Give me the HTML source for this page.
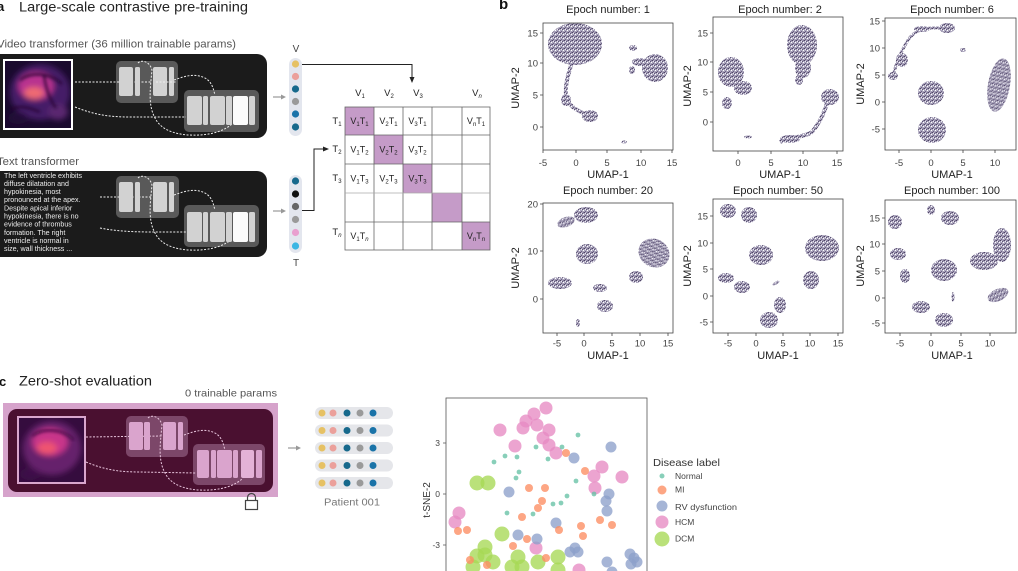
<!DOCTYPE html>
<html><head><meta charset="utf-8">
<style>
html,body{margin:0;padding:0;background:#fff;}
svg{display:block;font-family:"Liberation Sans",sans-serif;}
</style></head>
<body>
<svg width="1018" height="571" viewBox="0 0 1018 571" xmlns="http://www.w3.org/2000/svg">
<defs>
  <pattern id="sp" width="4" height="4" patternUnits="userSpaceOnUse">
    <rect width="4" height="4" fill="#aaa4bc"/>
    <rect x="0" y="0" width="1" height="1" fill="#4e4464"/>
    <rect x="2" y="1" width="1" height="1" fill="#5d5475"/>
    <rect x="1" y="3" width="1" height="1" fill="#6a6082"/>
    <rect x="3" y="2" width="1" height="1" fill="#ffffff"/>
    <rect x="1" y="1" width="1" height="1" fill="#ece9f1"/>
    <rect x="3" y="0" width="1" height="1" fill="#7c7393"/>
  </pattern>
  <filter id="bl" x="-20%" y="-20%" width="140%" height="140%"><feGaussianBlur stdDeviation="3"/></filter>
  <filter id="bl2" x="-20%" y="-20%" width="140%" height="140%"><feGaussianBlur stdDeviation="1.5"/></filter>
  <clipPath id="imA"><rect x="5" y="61" width="66" height="67"/></clipPath>
  <clipPath id="imC"><rect x="19" y="418" width="65" height="64"/></clipPath>
</defs>

<!-- ================= PANEL A ================= -->
<text x="-3" y="11" font-size="13" font-weight="bold" fill="#111">a</text>
<text x="19" y="11.5" font-size="13.5" fill="#222" textLength="229" lengthAdjust="spacingAndGlyphs">Large-scale contrastive pre-training</text>
<text x="-3" y="47.5" font-size="11" fill="#555" textLength="239" lengthAdjust="spacingAndGlyphs">Video transformer (36 million trainable params)</text>

<!-- video box -->
<rect x="-10" y="54" width="277" height="84" rx="10" fill="#1b1b1b"/>
<rect x="3" y="59" width="70" height="71" fill="#fff"/>
<g clip-path="url(#imA)">
  <rect x="5" y="61" width="66" height="67" fill="#1a0a2e"/>
  <g filter="url(#bl)">
    <ellipse cx="40" cy="92" rx="30" ry="28" fill="#4c2072" opacity="0.85"/>
    <ellipse cx="36" cy="86" rx="18" ry="14" fill="#b8338f"/>
    <ellipse cx="34" cy="93" rx="10" ry="6" fill="#ef6a72"/>
    <ellipse cx="58" cy="112" rx="10" ry="8" fill="#5a2670"/>
    <ellipse cx="18" cy="118" rx="10" ry="6" fill="#200c38"/>
  </g>
  <g filter="url(#bl2)" fill="none" stroke="#22092f" stroke-width="2">
    <path d="M20,80 C30,72 50,72 62,84"/>
    <path d="M44,75 C46,90 50,100 56,108"/>
    <path d="M10,110 C20,104 30,108 40,112"/>
  </g>
</g>

<!-- video blocks -->
<rect x="116" y="61" width="62" height="42" rx="5" fill="#595959"/>
<rect x="184" y="90" width="75" height="42" rx="5" fill="#595959"/>
<g fill="none" stroke="#eee" stroke-width="1" stroke-dasharray="2 1.5">
  <path d="M75,82 L152,82"/>
  <path d="M75,107 C95,115 110,117 130,117 L186,117"/>
  <path d="M174,80 C185,76 195,73 205,78 C212,82 213,88 215,95"/>
  <path d="M138,63 C142,59 150,62 152,70 C150,90 148,105 155,118 C162,132 180,136 200,135 C215,134 225,130 232,124"/>
</g>
<g fill="#d2d2d2">
  <rect x="119" y="67" width="14" height="29" rx="2"/>
  <rect x="135" y="67" width="5" height="29" rx="1.5"/>
  <rect x="153" y="67" width="14" height="29" rx="2"/>
  <rect x="169" y="67" width="5" height="29" rx="1.5"/>
  <rect x="187" y="96" width="15" height="29" rx="2"/>
  <rect x="203" y="96" width="5" height="29" rx="1.5"/>
  <rect x="210" y="96" width="15" height="29" rx="2"/>
  <rect x="226" y="96" width="6" height="29" rx="1.5"/>
  <rect x="233" y="96" width="15" height="29" rx="2" fill="#fbfbfb"/>
  <rect x="249" y="96" width="6" height="29" rx="1.5"/>
</g>
<path d="M156,82 L176,82" stroke="#eee" stroke-dasharray="2 1.5"/>

<!-- arrow -->
<path d="M273,97 L283,97" stroke="#999" stroke-width="1.2"/>
<path d="M286,97 L281,94.5 L281,99.5 Z" fill="#999"/>

<!-- V column -->
<text x="296" y="52" font-size="10" fill="#444" text-anchor="middle">V</text>
<rect x="289" y="58" width="13" height="78" rx="6.5" fill="#e3e6ee"/>
<circle cx="295.5" cy="64" r="3.6" fill="#e6c164"/>
<circle cx="295.5" cy="76.5" r="3.6" fill="#eba09b"/>
<circle cx="295.5" cy="89" r="3.6" fill="#17698c"/>
<circle cx="295.5" cy="101.5" r="3.6" fill="#9a9a9a"/>
<circle cx="295.5" cy="114" r="3.6" fill="#1a73a8"/>
<circle cx="295.5" cy="127" r="3.6" fill="#17698c"/>
<path d="M302,64.5 L412,64.5 L412,78" fill="none" stroke="#222" stroke-width="1"/>
<path d="M412,83 L409.5,77 L414.5,77 Z" fill="#222"/>

<!-- text transformer -->
<text x="-3" y="165" font-size="11" fill="#555" textLength="82" lengthAdjust="spacingAndGlyphs">Text transformer</text>
<rect x="-10" y="171" width="277" height="86" rx="10" fill="#1b1b1b"/>
<g font-size="7.1" fill="#ededed">
  <text x="4" y="177.8">The left ventricle exhibits</text>
  <text x="4" y="185.9">diffuse dilatation and</text>
  <text x="4" y="194.1">hypokinesia, most</text>
  <text x="4" y="202.2">pronounced at the apex.</text>
  <text x="4" y="210.4">Despite apical inferior</text>
  <text x="4" y="218.5">hypokinesia, there is no</text>
  <text x="4" y="226.7">evidence of thrombus</text>
  <text x="4" y="234.8">formation. The right</text>
  <text x="4" y="243">ventricle is normal in</text>
  <text x="4" y="251.1">size, wall thickness ...</text>
</g>
<rect x="116" y="176" width="63" height="42" rx="5" fill="#595959"/>
<rect x="184" y="205" width="75" height="42" rx="5" fill="#595959"/>
<g fill="none" stroke="#eee" stroke-width="1" stroke-dasharray="2 1.5">
  <path d="M100,197 L152,197"/>
  <path d="M100,228 C120,232 140,232 160,232 L186,232"/>
  <path d="M174,195 C185,191 195,188 205,193 C212,197 213,203 215,210"/>
  <path d="M138,178 C142,174 150,177 152,185 C150,205 148,220 155,233 C162,247 180,251 200,250 C215,249 225,245 232,239"/>
</g>
<g fill="#d2d2d2">
  <rect x="119" y="182" width="14" height="30" rx="2"/>
  <rect x="135" y="182" width="5" height="30" rx="1.5"/>
  <rect x="153" y="182" width="14" height="30" rx="2"/>
  <rect x="169" y="182" width="5" height="30" rx="1.5"/>
  <rect x="187" y="212" width="15" height="30" rx="2"/>
  <rect x="203" y="212" width="5" height="30" rx="1.5"/>
  <rect x="210" y="212" width="15" height="30" rx="2"/>
  <rect x="226" y="212" width="6" height="30" rx="1.5"/>
  <rect x="233" y="212" width="15" height="30" rx="2" fill="#fbfbfb"/>
  <rect x="249" y="212" width="6" height="30" rx="1.5"/>
</g>
<path d="M273,211 L283,211" stroke="#999" stroke-width="1.2"/>
<path d="M286,211 L281,208.5 L281,213.5 Z" fill="#999"/>

<!-- T column -->
<rect x="289" y="175" width="13" height="78" rx="6.5" fill="#e3e6ee"/>
<circle cx="295.5" cy="181" r="3.6" fill="#17698c"/>
<circle cx="295.5" cy="194" r="3.6" fill="#111"/>
<circle cx="295.5" cy="206.5" r="3.6" fill="#666"/>
<circle cx="295.5" cy="219.5" r="3.6" fill="#9a9a9a"/>
<circle cx="295.5" cy="232.5" r="3.6" fill="#e99fcf"/>
<circle cx="295.5" cy="246" r="3.6" fill="#3cb6e3"/>
<text x="296" y="266" font-size="10" fill="#444" text-anchor="middle">T</text>
<path d="M302,210.5 L314,210.5 L314,149 L324,149" fill="none" stroke="#222" stroke-width="1"/>
<path d="M329,149 L323,146.5 L323,151.5 Z" fill="#222"/>

<!-- matrix -->
<g fill="#c59bc8">
  <rect x="345" y="107" width="29" height="28"/>
  <rect x="374" y="135" width="29" height="29"/>
  <rect x="403" y="164" width="29" height="29"/>
  <rect x="432" y="193" width="30" height="29"/>
  <rect x="462" y="222" width="28" height="28"/>
</g>
<g stroke="#666" stroke-width="0.8" fill="none">
  <rect x="345" y="107" width="145" height="143"/>
  <path d="M374,107V250M403,107V250M432,107V250M462,107V250"/>
  <path d="M345,135H490M345,164H490M345,222H490"/>
  <path d="M345,193H490" stroke="#aaa"/>
</g>
<g font-size="9.5" fill="#222" text-anchor="middle">
  <text x="360" y="96">V<tspan dy="2" font-size="6">1</tspan></text>
  <text x="389" y="96">V<tspan dy="2" font-size="6">2</tspan></text>
  <text x="418" y="96">V<tspan dy="2" font-size="6">3</tspan></text>
  <text x="477" y="96">V<tspan dy="2" font-size="6" font-style="italic">n</tspan></text>
  <text x="337" y="124">T<tspan dy="2" font-size="6">1</tspan></text>
  <text x="337" y="152">T<tspan dy="2" font-size="6">2</tspan></text>
  <text x="337" y="181">T<tspan dy="2" font-size="6">3</tspan></text>
  <text x="337" y="235">T<tspan dy="2" font-size="6" font-style="italic">n</tspan></text>
</g>
<g font-size="9" fill="#222" text-anchor="middle">
  <text x="359.5" y="124">V<tspan dy="2" font-size="6">1</tspan><tspan dy="-2">T</tspan><tspan dy="2" font-size="6">1</tspan></text>
  <text x="388.5" y="124">V<tspan dy="2" font-size="6">2</tspan><tspan dy="-2">T</tspan><tspan dy="2" font-size="6">1</tspan></text>
  <text x="417.5" y="124">V<tspan dy="2" font-size="6">3</tspan><tspan dy="-2">T</tspan><tspan dy="2" font-size="6">1</tspan></text>
  <text x="476" y="124">V<tspan dy="2" font-size="6" font-style="italic">n</tspan><tspan dy="-2">T</tspan><tspan dy="2" font-size="6">1</tspan></text>
  <text x="359.5" y="152.5">V<tspan dy="2" font-size="6">1</tspan><tspan dy="-2">T</tspan><tspan dy="2" font-size="6">2</tspan></text>
  <text x="388.5" y="152.5">V<tspan dy="2" font-size="6">2</tspan><tspan dy="-2">T</tspan><tspan dy="2" font-size="6">2</tspan></text>
  <text x="417.5" y="152.5">V<tspan dy="2" font-size="6">3</tspan><tspan dy="-2">T</tspan><tspan dy="2" font-size="6">2</tspan></text>
  <text x="359.5" y="181.5">V<tspan dy="2" font-size="6">1</tspan><tspan dy="-2">T</tspan><tspan dy="2" font-size="6">3</tspan></text>
  <text x="388.5" y="181.5">V<tspan dy="2" font-size="6">2</tspan><tspan dy="-2">T</tspan><tspan dy="2" font-size="6">3</tspan></text>
  <text x="417.5" y="181.5">V<tspan dy="2" font-size="6">3</tspan><tspan dy="-2">T</tspan><tspan dy="2" font-size="6">3</tspan></text>
  <text x="359.5" y="239">V<tspan dy="2" font-size="6">1</tspan><tspan dy="-2">T</tspan><tspan dy="2" font-size="6" font-style="italic">n</tspan></text>
  <text x="476" y="239">V<tspan dy="2" font-size="6" font-style="italic">n</tspan><tspan dy="-2">T</tspan><tspan dy="2" font-size="6" font-style="italic">n</tspan></text>
</g>

<!-- ================= PANEL B ================= -->
<text x="499" y="9" font-size="15" font-weight="bold" fill="#111">b</text>

<g font-size="9.5" fill="#444">
<!-- Plot 1 -->
<text x="608" y="13" font-size="11" fill="#222" text-anchor="middle">Epoch number: 1</text>
<g fill="url(#sp)">
  <ellipse cx="575" cy="44" rx="27" ry="21"/>
  <ellipse cx="566" cy="100" rx="5" ry="6"/>
  <ellipse cx="590" cy="116" rx="8" ry="6"/>
  <ellipse cx="655" cy="68" rx="13" ry="14"/>
  <ellipse cx="640" cy="62" rx="8" ry="4"/>
  <ellipse cx="633" cy="48" rx="4" ry="3"/>
  <ellipse cx="632" cy="70" rx="3" ry="4"/>
  <ellipse cx="624" cy="142" rx="3" ry="1.5"/>
</g>
<path d="M572,62 C568,75 565,85 566,95 C567,105 575,110 590,116" fill="none" stroke="url(#sp)" stroke-width="4"/>
<rect x="543" y="23" width="130" height="127" fill="none" stroke="#444" stroke-width="0.8"/>
<path d="M540,33H543M540,63H543M540,95H543M540,127H543M543,150V153M576,150V153M607,150V153M641,150V153M672,150V153" stroke="#444" stroke-width="0.8"/>
<g text-anchor="end"><text x="538" y="36.5">15</text><text x="538" y="66.5">10</text><text x="538" y="98.5">5</text><text x="538" y="130.5">0</text></g>
<g text-anchor="middle"><text x="543" y="166">-5</text><text x="576" y="166">0</text><text x="607" y="166">5</text><text x="641" y="166">10</text><text x="672" y="166">15</text></g>
<text x="608" y="178" font-size="11" text-anchor="middle" fill="#222">UMAP-1</text>
<text transform="translate(519,88) rotate(-90)" font-size="11" text-anchor="middle" fill="#222">UMAP-2</text>

<!-- Plot 2 -->
<text x="780" y="13" font-size="11" fill="#222" text-anchor="middle">Epoch number: 2</text>
<g fill="url(#sp)">
  <ellipse cx="731" cy="72" rx="13" ry="15"/>
  <ellipse cx="743" cy="88" rx="9" ry="7"/>
  <ellipse cx="727" cy="103" rx="5" ry="6"/>
  <ellipse cx="802" cy="45" rx="15" ry="20"/>
  <ellipse cx="803" cy="68" rx="8" ry="10"/>
  <ellipse cx="799" cy="80" rx="4" ry="5"/>
  <ellipse cx="830" cy="97" rx="9" ry="8"/>
  <ellipse cx="790" cy="139" rx="10" ry="4"/>
  <ellipse cx="748" cy="137" rx="4" ry="1.5"/>
</g>
<path d="M828,100 C824,115 818,125 812,132 C805,137 790,137 780,142" fill="none" stroke="url(#sp)" stroke-width="4"/>
<rect x="713" y="17" width="130" height="134" fill="none" stroke="#444" stroke-width="0.8"/>
<path d="M710,33H713M710,62H713M710,92H713M710,122H713M738,151V154M771,151V154M803,151V154M837,151V154" stroke="#444" stroke-width="0.8"/>
<g text-anchor="end"><text x="708" y="36.5">15</text><text x="708" y="65.5">10</text><text x="708" y="95.5">5</text><text x="708" y="125.5">0</text></g>
<g text-anchor="middle"><text x="738" y="166">0</text><text x="771" y="166">5</text><text x="803" y="166">10</text><text x="837" y="166">15</text></g>
<text x="780" y="178" font-size="11" text-anchor="middle" fill="#222">UMAP-1</text>
<text transform="translate(691,86) rotate(-90)" font-size="11" text-anchor="middle" fill="#222">UMAP-2</text>

<!-- Plot 3 -->
<text x="952" y="13" font-size="11" fill="#222" text-anchor="middle">Epoch number: 6</text>
<g fill="url(#sp)">
  <ellipse cx="947" cy="28" rx="8" ry="5"/>
  <ellipse cx="922" cy="29" rx="8" ry="3"/>
  <ellipse cx="902" cy="60" rx="6" ry="7"/>
  <ellipse cx="893" cy="76" rx="5" ry="4"/>
  <ellipse cx="963" cy="50" rx="3" ry="2"/>
  <ellipse cx="999" cy="85" rx="11" ry="27" transform="rotate(10 999 85)"/>
  <ellipse cx="931" cy="93" rx="13" ry="12"/>
  <ellipse cx="932" cy="130" rx="14" ry="13"/>
</g>
<path d="M940,28 C925,27 915,30 908,40 C902,50 897,60 893,76" fill="none" stroke="url(#sp)" stroke-width="3"/>
<rect x="885" y="18" width="131" height="132" fill="none" stroke="#444" stroke-width="0.8"/>
<path d="M882,21H885M882,48H885M882,75H885M882,102H885M882,129H885M899,150V153M931,150V153M963,150V153M995,150V153" stroke="#444" stroke-width="0.8"/>
<g text-anchor="end"><text x="880" y="24.5">15</text><text x="880" y="51.5">10</text><text x="880" y="78.5">5</text><text x="880" y="105.5">0</text><text x="880" y="132.5">-5</text></g>
<g text-anchor="middle"><text x="899" y="166">-5</text><text x="931" y="166">0</text><text x="963" y="166">5</text><text x="995" y="166">10</text></g>
<text x="952" y="178" font-size="11" text-anchor="middle" fill="#222">UMAP-1</text>
<text transform="translate(864,84) rotate(-90)" font-size="11" text-anchor="middle" fill="#222">UMAP-2</text>

<!-- Plot 4 -->
<text x="608" y="194" font-size="11" fill="#222" text-anchor="middle">Epoch number: 20</text>
<g fill="url(#sp)">
  <ellipse cx="586" cy="215" rx="12" ry="8"/>
  <ellipse cx="566" cy="222" rx="9" ry="5" transform="rotate(-20 566 222)"/>
  <ellipse cx="587" cy="254" rx="11" ry="10"/>
  <ellipse cx="654" cy="253" rx="16" ry="14" transform="rotate(30 654 253)"/>
  <ellipse cx="636" cy="277" rx="7" ry="6"/>
  <ellipse cx="560" cy="283" rx="12" ry="6"/>
  <ellipse cx="600" cy="288" rx="7" ry="4"/>
  <ellipse cx="605" cy="306" rx="8" ry="6"/>
  <ellipse cx="578" cy="323" rx="2" ry="4"/>
</g>
<rect x="543" y="203" width="130" height="130" fill="none" stroke="#444" stroke-width="0.8"/>
<path d="M540,204H543M540,251H543M540,299H543M557,333V336M584,333V336M612,333V336M640,333V336M668,333V336" stroke="#444" stroke-width="0.8"/>
<g text-anchor="end"><text x="538" y="207.5">20</text><text x="538" y="254.5">10</text><text x="538" y="302.5">0</text></g>
<g text-anchor="middle"><text x="557" y="346.5">-5</text><text x="584" y="346.5">0</text><text x="612" y="346.5">5</text><text x="640" y="346.5">10</text><text x="668" y="346.5">15</text></g>
<text x="608" y="359" font-size="11" text-anchor="middle" fill="#222">UMAP-1</text>
<text transform="translate(519,268) rotate(-90)" font-size="11" text-anchor="middle" fill="#222">UMAP-2</text>

<!-- Plot 5 -->
<text x="778" y="194" font-size="11" fill="#222" text-anchor="middle">Epoch number: 50</text>
<g fill="url(#sp)">
  <ellipse cx="728" cy="211" rx="8" ry="7"/>
  <ellipse cx="749" cy="215" rx="8" ry="8"/>
  <ellipse cx="761" cy="255" rx="12" ry="10"/>
  <ellipse cx="822" cy="248" rx="17" ry="13"/>
  <ellipse cx="811" cy="280" rx="8" ry="9"/>
  <ellipse cx="726" cy="278" rx="8" ry="5"/>
  <ellipse cx="742" cy="287" rx="8" ry="6"/>
  <ellipse cx="776" cy="283" rx="4" ry="1.5" transform="rotate(-30 776 283)"/>
  <ellipse cx="780" cy="305" rx="6" ry="8"/>
  <ellipse cx="769" cy="320" rx="9" ry="8"/>
</g>
<rect x="713" y="199" width="130" height="134" fill="none" stroke="#444" stroke-width="0.8"/>
<path d="M710,216H713M710,243H713M710,269H713M710,296H713M710,322H713M728,333V336M756,333V336M783,333V336M810,333V336M838,333V336" stroke="#444" stroke-width="0.8"/>
<g text-anchor="end"><text x="708" y="219.5">15</text><text x="708" y="246.5">10</text><text x="708" y="272.5">5</text><text x="708" y="299.5">0</text><text x="708" y="325.5">-5</text></g>
<g text-anchor="middle"><text x="728" y="346.5">-5</text><text x="756" y="346.5">0</text><text x="783" y="346.5">5</text><text x="810" y="346.5">10</text><text x="838" y="346.5">15</text></g>
<text x="778" y="359" font-size="11" text-anchor="middle" fill="#222">UMAP-1</text>
<text transform="translate(691,266) rotate(-90)" font-size="11" text-anchor="middle" fill="#222">UMAP-2</text>

<!-- Plot 6 -->
<text x="952" y="194" font-size="11" fill="#222" text-anchor="middle">Epoch number: 100</text>
<g fill="url(#sp)">
  <ellipse cx="895" cy="222" rx="7" ry="7"/>
  <ellipse cx="931" cy="210" rx="4" ry="5"/>
  <ellipse cx="950" cy="218" rx="9" ry="7"/>
  <ellipse cx="1002" cy="245" rx="9" ry="17"/>
  <ellipse cx="984" cy="261" rx="14" ry="9"/>
  <ellipse cx="898" cy="254" rx="8" ry="6"/>
  <ellipse cx="905" cy="276" rx="5" ry="7"/>
  <ellipse cx="944" cy="270" rx="13" ry="11"/>
  <ellipse cx="998" cy="295" rx="11" ry="6" transform="rotate(-25 998 295)"/>
  <ellipse cx="921" cy="307" rx="9" ry="6"/>
  <ellipse cx="944" cy="320" rx="9" ry="7"/>
  <ellipse cx="953" cy="297" rx="1.5" ry="5"/>
</g>
<rect x="885" y="200" width="131" height="133" fill="none" stroke="#444" stroke-width="0.8"/>
<path d="M882,218H885M882,244H885M882,271H885M882,298H885M882,323H885M900,333V336M931,333V336M961,333V336M990,333V336" stroke="#444" stroke-width="0.8"/>
<g text-anchor="end"><text x="880" y="221.5">15</text><text x="880" y="247.5">10</text><text x="880" y="274.5">5</text><text x="880" y="301.5">0</text><text x="880" y="326.5">-5</text></g>
<g text-anchor="middle"><text x="900" y="346.5">-5</text><text x="931" y="346.5">0</text><text x="961" y="346.5">5</text><text x="990" y="346.5">10</text></g>
<text x="952" y="359" font-size="11" text-anchor="middle" fill="#222">UMAP-1</text>
<text transform="translate(864,266) rotate(-90)" font-size="11" text-anchor="middle" fill="#222">UMAP-2</text>
</g>

<!-- ================= PANEL C ================= -->
<text x="-1" y="386" font-size="13" font-weight="bold" fill="#111">c</text>
<text x="19" y="385.5" font-size="13.5" fill="#222" textLength="133" lengthAdjust="spacingAndGlyphs">Zero-shot evaluation</text>
<text x="185" y="396.5" font-size="10.5" fill="#555" textLength="92" lengthAdjust="spacingAndGlyphs">0 trainable params</text>

<rect x="3" y="403" width="275" height="94" fill="#d6a3cb"/>
<rect x="8" y="409" width="265" height="83" rx="9" fill="#4a1030"/>
<rect x="17" y="416" width="69" height="68" fill="#d9a6cd"/>
<g clip-path="url(#imC)">
  <rect x="19" y="418" width="65" height="64" fill="#350c3e"/>
  <g filter="url(#bl)">
    <ellipse cx="52" cy="448" rx="29" ry="27" fill="#6e2474" opacity="0.85"/>
    <ellipse cx="50" cy="442" rx="18" ry="14" fill="#c8348a"/>
    <ellipse cx="47" cy="448" rx="10" ry="6" fill="#ef5470"/>
    <ellipse cx="30" cy="474" rx="10" ry="6" fill="#3e1148"/>
  </g>
  <g filter="url(#bl2)" fill="none" stroke="#3e0e40" stroke-width="2">
    <path d="M32,436 C42,428 62,428 74,440"/>
  </g>
</g>

<rect x="126" y="416" width="62" height="41" rx="5" fill="#7c4769"/>
<rect x="193" y="444" width="72" height="41" rx="5" fill="#7c4769"/>
<g fill="none" stroke="#e9c6de" stroke-width="1" stroke-dasharray="2 1.5">
  <path d="M86,437 L162,436"/>
  <path d="M86,462 C105,470 120,472 140,472 L196,473"/>
  <path d="M184,435 C195,431 205,428 215,433 C222,437 223,443 225,450"/>
  <path d="M148,418 C152,414 160,417 162,425 C160,445 158,460 165,473 C172,487 190,491 210,490 C225,489 235,485 242,479"/>
</g>
<g fill="#daa4cd">
  <rect x="129" y="422" width="14" height="28" rx="2"/>
  <rect x="144" y="422" width="6" height="28" rx="1.5"/>
  <rect x="163" y="422" width="13" height="28" rx="2"/>
  <rect x="178" y="422" width="5" height="28" rx="1.5"/>
  <rect x="197" y="450" width="12" height="28" rx="2"/>
  <rect x="211" y="450" width="5" height="28" rx="1.5"/>
  <rect x="217" y="450" width="15" height="28" rx="2"/>
  <rect x="233" y="450" width="5" height="28" rx="1.5"/>
  <rect x="241" y="450" width="13" height="28" rx="2" fill="#e4b2d7"/>
  <rect x="256" y="450" width="6" height="28" rx="1.5"/>
</g>

<!-- lock -->
<path d="M247.5,501 V497.5 A4,4 0 0 1 255.5,497.5 V501" fill="none" stroke="#444" stroke-width="1.2"/>
<rect x="245.5" y="500.5" width="12" height="9" fill="#fff" stroke="#444" stroke-width="1.2"/>

<!-- arrow -->
<path d="M288,448 L298,448" stroke="#999" stroke-width="1.2"/>
<path d="M301,448 L296,445.5 L296,450.5 Z" fill="#999"/>

<!-- token rows -->
<g>
  <rect x="315" y="407" width="78" height="12" rx="6" fill="#e5e6ea"/>
  <rect x="315" y="424.5" width="78" height="12" rx="6" fill="#e5e6ea"/>
  <rect x="315" y="442" width="78" height="12" rx="6" fill="#e5e6ea"/>
  <rect x="315" y="459.5" width="78" height="12" rx="6" fill="#e5e6ea"/>
  <rect x="315" y="477" width="78" height="12" rx="6" fill="#e5e6ea"/>
</g>
<g>
  <g fill="#e6c164"><circle cx="322" cy="413" r="3.5"/><circle cx="322" cy="430.5" r="3.5"/><circle cx="322" cy="448" r="3.5"/><circle cx="322" cy="465.5" r="3.5"/><circle cx="322" cy="483" r="3.5"/></g>
  <g fill="#eba09b"><circle cx="333" cy="413" r="3.5"/><circle cx="333" cy="430.5" r="3.5"/><circle cx="333" cy="448" r="3.5"/><circle cx="333" cy="465.5" r="3.5"/><circle cx="333" cy="483" r="3.5"/></g>
  <g fill="#17698c"><circle cx="347" cy="413" r="3.5"/><circle cx="347" cy="430.5" r="3.5"/><circle cx="347" cy="448" r="3.5"/><circle cx="347" cy="465.5" r="3.5"/><circle cx="347" cy="483" r="3.5"/></g>
  <g fill="#9a9a9a"><circle cx="360" cy="413" r="3.5"/><circle cx="360" cy="430.5" r="3.5"/><circle cx="360" cy="448" r="3.5"/><circle cx="360" cy="465.5" r="3.5"/><circle cx="360" cy="483" r="3.5"/></g>
  <g fill="#1a73a8"><circle cx="373" cy="413" r="3.5"/><circle cx="373" cy="430.5" r="3.5"/><circle cx="373" cy="448" r="3.5"/><circle cx="373" cy="465.5" r="3.5"/><circle cx="373" cy="483" r="3.5"/></g>
</g>
<text x="324" y="505.5" font-size="10" fill="#777" textLength="56" lengthAdjust="spacingAndGlyphs">Patient 001</text>

<!-- t-SNE scatter -->
<g fill-opacity="0.78">
  <g fill="#a6d854">
    <circle cx="477" cy="483" r="7.5"/><circle cx="488" cy="483" r="7.5"/><circle cx="502" cy="534" r="7.5"/>
    <circle cx="485" cy="547" r="7.5"/><circle cx="477" cy="556" r="7.5"/><circle cx="485" cy="555" r="7.5"/>
    <circle cx="493" cy="562" r="7.5"/><circle cx="518" cy="557" r="7.5"/><circle cx="512" cy="567" r="7.5"/>
    <circle cx="522" cy="567" r="7.5"/><circle cx="538" cy="562" r="7.5"/><circle cx="558" cy="557" r="7.5"/>
    <circle cx="558" cy="570" r="7.5"/><circle cx="473" cy="567" r="7.5"/>
  </g>
  <g fill="#e78ac3">
    <circle cx="546" cy="408" r="6.5"/><circle cx="534" cy="414" r="6.5"/><circle cx="526" cy="421" r="6.5"/>
    <circle cx="523" cy="428" r="6.5"/><circle cx="537" cy="425" r="6.5"/><circle cx="549" cy="430" r="6.5"/>
    <circle cx="543" cy="438" r="6.5"/><circle cx="549" cy="445" r="6.5"/><circle cx="556" cy="453" r="6.5"/>
    <circle cx="500" cy="430" r="6.5"/><circle cx="515" cy="446" r="6.5"/><circle cx="602" cy="467" r="6.5"/>
    <circle cx="594" cy="476" r="6.5"/><circle cx="622" cy="477" r="6.5"/><circle cx="595" cy="488" r="6.5"/>
    <circle cx="459" cy="513" r="6.5"/><circle cx="455" cy="522" r="6.5"/><circle cx="536" cy="548" r="6.5"/>
    <circle cx="579" cy="570" r="6.5"/>
  </g>
  <g fill="#8da0cb">
    <circle cx="611" cy="447" r="5.5"/><circle cx="574" cy="458" r="5.5"/><circle cx="509" cy="492" r="5.5"/>
    <circle cx="609" cy="494" r="5.5"/><circle cx="606" cy="501" r="5.5"/><circle cx="607" cy="511" r="5.5"/>
    <circle cx="556" cy="523" r="5.5"/><circle cx="518" cy="535" r="5.5"/><circle cx="537" cy="539" r="5.5"/>
    <circle cx="570" cy="552" r="5.5"/><circle cx="575" cy="548" r="5.5"/><circle cx="578" cy="552" r="5.5"/>
    <circle cx="607" cy="562" r="5.5"/><circle cx="630" cy="554" r="5.5"/><circle cx="634" cy="558" r="5.5"/>
    <circle cx="637" cy="562" r="5.5"/><circle cx="631" cy="564" r="5.5"/><circle cx="612" cy="572" r="5.5"/>
  </g>
  <g fill="#fc8d62">
    <circle cx="566" cy="453" r="4"/><circle cx="585" cy="471" r="4"/><circle cx="529" cy="488" r="4"/>
    <circle cx="545" cy="488" r="4"/><circle cx="542" cy="501" r="4"/><circle cx="538" cy="508" r="4"/>
    <circle cx="522" cy="517" r="4"/><circle cx="458" cy="531" r="4"/><circle cx="467" cy="530" r="4"/>
    <circle cx="559" cy="530" r="4"/><circle cx="581" cy="526" r="4"/><circle cx="583" cy="536" r="4"/>
    <circle cx="600" cy="520" r="4"/><circle cx="612" cy="525" r="4"/><circle cx="527" cy="539" r="4"/>
    <circle cx="513" cy="546" r="4"/><circle cx="470" cy="560" r="4"/><circle cx="546" cy="558" r="4"/>
    <circle cx="487" cy="565" r="4"/>
  </g>
  <g fill="#66c2a5">
    <circle cx="578" cy="435" r="2.4"/><circle cx="536" cy="447" r="2.4"/><circle cx="562" cy="447" r="2.4"/>
    <circle cx="505" cy="456" r="2.4"/><circle cx="517" cy="457" r="2.4"/><circle cx="494" cy="462" r="2.4"/>
    <circle cx="548" cy="459" r="2.4"/><circle cx="519" cy="472" r="2.4"/><circle cx="516" cy="478" r="2.4"/>
    <circle cx="576" cy="481" r="2.4"/><circle cx="567" cy="496" r="2.4"/><circle cx="561" cy="503" r="2.4"/>
    <circle cx="553" cy="504" r="2.4"/><circle cx="507" cy="513" r="2.4"/><circle cx="533" cy="514" r="2.4"/>
    <circle cx="594" cy="494" r="2.4"/>
  </g>
</g>
<rect x="446" y="398" width="201" height="185" fill="none" stroke="#555" stroke-width="0.8"/>
<path d="M443,443H446M443,494H446M443,545H446" stroke="#555" stroke-width="0.8"/>
<g font-size="8.5" fill="#444" text-anchor="end">
  <text x="440" y="446">3</text><text x="440" y="497">0</text><text x="440" y="548">-3</text>
</g>
<text transform="translate(430,500) rotate(-90)" font-size="10" text-anchor="middle" fill="#333">t-SNE-2</text>

<!-- legend -->
<text x="653" y="466" font-size="10.5" fill="#333" textLength="67" lengthAdjust="spacingAndGlyphs">Disease label</text>
<g fill-opacity="0.78">
  <circle cx="662" cy="476" r="2.5" fill="#66c2a5"/>
  <circle cx="662" cy="490" r="4.5" fill="#fc8d62"/>
  <circle cx="662" cy="506" r="5.5" fill="#8da0cb"/>
  <circle cx="662" cy="522" r="6.5" fill="#e78ac3"/>
  <circle cx="662" cy="539" r="7.5" fill="#a6d854"/>
</g>
<g font-size="8.5" fill="#444">
  <text x="675" y="479">Normal</text>
  <text x="675" y="492.5">MI</text>
  <text x="675" y="510" textLength="62" lengthAdjust="spacingAndGlyphs">RV dysfunction</text>
  <text x="675" y="525">HCM</text>
  <text x="675" y="541.5">DCM</text>
</g>
</svg>
</body></html>
